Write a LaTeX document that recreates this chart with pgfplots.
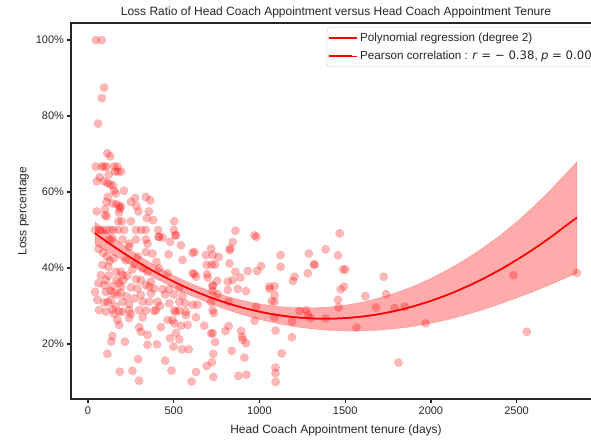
\documentclass[border=0pt]{standalone}
\usepackage{pgfplots}
\pgfplotsset{compat=1.18}
\usepackage{fontspec}
\setmainfont{Liberation Sans}
\newfontfamily\dejavu{DejaVu Sans}
\definecolor{spine}{HTML}{262626}

\begin{document}
\begin{tikzpicture}
\begin{axis}[
    scale only axis,
    width=530pt, height=376pt,
    xmin=-99.5, xmax=2992.5,
    ymin=5.5, ymax=104.5,
    axis line style={spine, line width=1.25pt},
    tick style={spine, line width=1.25pt},
    tick align=outside,
    tick pos=left,
    major tick length=3.5pt,
    xtick={0,500,1000,1500,2000,2500},
    xticklabels={0,500,1000,1500,2000,2500},
    ytick={20,40,60,80,100},
    yticklabels={20\%,40\%,60\%,80\%,100\%},
    /pgf/number format/assume math mode=true,
    tick label style={font=\fontsize{11}{13}\selectfont, text=spine},
    xticklabel style={yshift=-1pt},
    label style={font=\fontsize{12}{14}\selectfont, text=spine},
    xlabel style={yshift=-3pt},
    title style={font=\fontsize{12}{14}\selectfont, text=spine, yshift=-5pt},
    title={Loss Ratio of Head Coach Appointment versus Head Coach Appointment Tenure},
    xlabel={Head Coach Appointment tenure (days)},
    ylabel={Loss percentage},
    legend style={at={(1,1)}, anchor=north east, xshift=-6pt, yshift=-4.3pt,
        draw=black!20, rounded corners=3pt, fill=white,
        font=\fontsize{11.7}{13}\selectfont, text=spine,
        cells={anchor=west}, row sep=0pt, inner xsep=1pt, inner ysep=1pt,
        nodes={text height=9pt, text depth=2.5pt, inner ysep=3.5pt}},
    legend image code/.code={\draw[#1, line width=1.8pt] (0pt,0pt) -- (23.4pt,0pt); \path (0pt,0pt) -- (28.5pt,0pt);},
]

% scatter of appointments
\addplot[only marks, mark=*, mark size=4.2pt,
    mark options={draw=red, fill=red, fill opacity=0.28, draw opacity=0.12, line width=0.6pt},
    forget plot]
coordinates {
(45,100)(80,100)(94,87.5)(80,84.7)(58,78)(113,70.2)(129,69.4)
(45,66.7)(80,66.7)(94,66.7)(107,66.7)(152,66.7)(171,66.7)
(68,63.9)(120,64.6)(51,62.8)(158,65.4)(175,65.4)(193,65.4)
(94,62.8)(113,62.4)(129,62)(146,61.7)(152,60.3)(162,59.6)(209,60.3)
(115,58.7)(107,57.4)(142,57)(165,56.8)(181,56.4)(193,56.1)(185,55.6)
(250,57.4)(275,58.4)(337,58.7)(363,57.8)(282,56.3)(294,54.9)(355,54.9)
(51,54.9)(99,55.5)(181,54.6)(99,53.9)(109,53.6)(177,52.3)(197,52.3)(250,52.3)(343,53.1)(380,52.6)(503,52.3)
(41,50)(68,50)(84,50)(107,50)(129,50)(148,50)(177,50)(211,50)(279,50)(310,50)(337,50)(409,50)(501,50)
(415,48.2)(509,48.6)
(123,47.3)(142,47.8)(201,47.5)(240,46.4)(240,45.6)(279,47.5)(337,47.5)(347,46.4)(411,48.2)(435,48)
(513,48.6)(478,46.9)(542,46)(337,44.2)(376,43.8)(470,43.6)(551,42.1)(610,44)
(84,40.8)(127,41.9)(119,40.3)(162,39)(191,39)(201,38.1)(259,39.6)(318,39.9)(347,39)(399,41.6)
(415,39.9)(464,38.6)(610,38.6)(630,37.7)
(74,38.1)(104,36.8)(165,36.8)(181,36)(206,36.8)(308,36.8)(367,36.4)(337,35.5)
(94,35.5)(142,35.2)(191,35.1)(250,34.9)(288,34.6)(357,35.1)(386,34.6)(435,34.4)(474,34.4)(532,34.6)
(41,33.7)(104,33.7)(152,33.5)(191,33.5)(308,32.9)(367,33.3)(551,32.6)
(54,31.6)(94,30.9)(133,31.6)(201,31.1)(240,30.5)(318,31.1)(357,31.1)(405,31.1)(474,30.7)(532,31.1)(567,30.7)(610,30.3)
(64,28.9)(142,29.1)(181,28.5)(240,28.9)(298,28.9)(337,28.8)(396,28.9)(503,28.8)(532,28.8)(571,28.5)
(104,28.5)(152,27.9)(201,28.5)(250,27.9)(386,28.7)(513,28.5)(571,27.6)(630,27)
(171,26.3)(181,25)(240,26.8)(318,27)(464,26.3)(493,26.3)(503,25.4)(542,24.8)(581,25)
(298,24.4)(308,23.2)(347,22.4)(425,24.4)
(142,22.1)(136,20.6)(215,20.6)(347,19.8)(402,19.9)(478,21.5)(513,22.9)(532,21.2)(499,19.3)(548,18.6)(587,18.6)
(113,17.4)(292,16)(450,15.6)
(185,12.7)(259,12.9)(487,13)(630,12.6)
(298,10.3)(604,10.1)
(60,45)(88,44)(110,43)(150,42.5)(220,42)(270,41)(290,43)(120,38)(230,38)(280,37)
(60,36)(130,34)(170,33)(225,32.5)(270,32)(115,31)(160,30)(420,30)(450,33)(500,33)
(860,49.8)(971,48.6)(982,48.2)(844,46.8)(825,44.7)(830,45.1)(620,44.2)(718,45.1)(688,43.4)(727,43.4)
(762,42.9)(1123,43.4)(1288,43.8)(825,41.2)(692,40.8)(721,40.9)(741,40.9)(1123,40.3)(1318,40.9)(1010,40.5)
(987,39.2)(932,39.2)(860,39)(620,38.4)(694,38.4)(698,37.5)(889,37.5)(844,36.8)(815,36.4)(753,36.6)
(1205,37.7)(1195,36.6)(1282,38.6)(727,35.5)(1058,35.1)(1088,35.2)
(727,35.1)(727,33.9)(815,34.2)(873,34.5)(922,33.9)(1058,34.5)(1088,32.9)(1072,31.3)(1088,31.1)(756,33.1)
(639,30.3)(718,31)(727,28.9)(733,28.1)(819,31.1)(981,29.8)(971,26.1)(1088,27)(1234,28.7)(1273,28.9)
(1282,27.6)(1298,26.8)(1191,25.9)(678,24.8)(801,23.4)(820,24.7)(718,22.8)(727,22.8)(741,20.5)
(893,23.4)(899,21.9)(902,21.1)(922,20.2)(1094,23.5)(1189,21.8)(838,18.2)(731,17.4)(912,16.4)(1130,17.5)
(723,15.2)(692,14.2)(731,11.3)(877,11.6)(924,11.9)(1094,13.8)(1094,12.3)(1094,10)
(1468,49.1)(1386,44.9)(1458,43.3)(1487,39.6)(1501,39.6)(1725,37.7)(1493,35.1)(1474,34.4)(1322,40.9)
(1618,32.6)(1739,33.1)(1458,31.6)(1462,29.6)(1680,29.6)(1789,29.4)(1848,29.8)(1386,26.7)(1566,24.3)
(1969,25.4)(1811,15.1)
(2481,38.1)(2852,38.7)(2560,23.2)
};

% confidence band of the degree-2 fit
\addplot[draw=red, draw opacity=0.25, fill=red, fill opacity=0.33, forget plot]
coordinates {
(41,52.14)(100,49.81)(200,46.24)(300,43.11)(400,40.38)(500,38.0)(600,35.92)(700,34.14)
(800,32.66)(900,31.47)(1000,30.54)(1100,29.90)(1200,29.57)(1300,29.48)(1400,29.69)(1500,30.20)
(1600,31.01)(1700,32.12)(1800,33.53)(1900,35.23)(2000,37.24)(2100,39.59)(2200,42.20)(2300,45.15)
(2400,48.45)(2500,52.10)(2600,56.20)(2700,60.65)(2800,65.45)(2852,67.96)
(2852,38.56)(2800,37.65)(2700,35.65)(2600,33.80)(2500,32.10)(2400,30.45)(2300,28.95)(2200,27.60)
(2100,26.39)(2000,25.44)(1900,24.63)(1800,24.03)(1700,23.62)(1600,23.41)(1500,23.40)(1400,23.59)
(1300,23.98)(1200,24.57)(1100,25.40)(1000,26.44)(900,27.67)(800,29.16)(700,30.84)(600,32.72)
(500,34.8)(400,37.08)(300,39.51)(200,42.04)(100,44.61)(41,46.14)
} -- cycle;

% regression line (drawn twice: once per legend entry, as in the original)
\addplot[red, line width=1.5pt, smooth]
coordinates {
(41,49.14)(100,47.21)(200,44.14)(300,41.31)(400,38.73)(500,36.40)(600,34.32)(700,32.49)
(800,30.91)(900,29.57)(1000,28.49)(1100,27.65)(1200,27.07)(1300,26.73)(1400,26.64)(1500,26.80)
(1600,27.21)(1700,27.87)(1800,28.78)(1900,29.93)(2000,31.34)(2100,32.99)(2200,34.90)(2300,37.05)
(2400,39.45)(2500,42.10)(2600,45.00)(2700,48.15)(2800,51.55)(2852,53.26)
};
\addlegendentry{Polynomial regression (degree 2)}
\addplot[red, line width=1.5pt, smooth]
coordinates {
(41,49.14)(100,47.21)(200,44.14)(300,41.31)(400,38.73)(500,36.40)(600,34.32)(700,32.49)
(800,30.91)(900,29.57)(1000,28.49)(1100,27.65)(1200,27.07)(1300,26.73)(1400,26.64)(1500,26.80)
(1600,27.21)(1700,27.87)(1800,28.78)(1900,29.93)(2000,31.34)(2100,32.99)(2200,34.90)(2300,37.05)
(2400,39.45)(2500,42.10)(2600,45.00)(2700,48.15)(2800,51.55)(2852,53.26)
};
\addlegendentry{Pearson correlation : {\dejavu\textit{r} = − 0.38}, {\dejavu\textit{p} = 0.00}}

\end{axis}
\pgfresetboundingbox
\path[use as bounding box] ([xshift=-71pt,yshift=-43pt]current axis.south west)
    rectangle ([xshift=520pt,yshift=399pt]current axis.south west);
\end{tikzpicture}
\end{document}
